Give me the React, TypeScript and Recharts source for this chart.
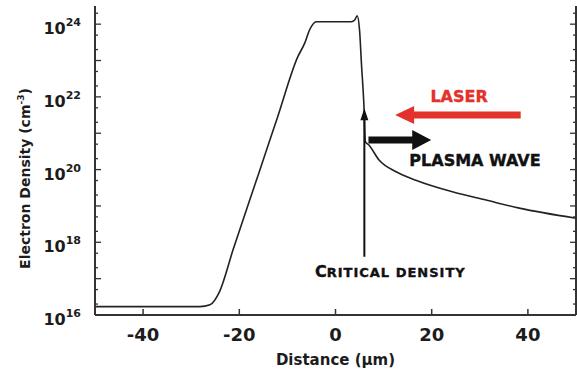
import React from 'react'
import {
  LineChart, Line, XAxis, YAxis, ReferenceLine, ReferenceDot,
} from 'recharts'

// distance (µm) and electron density (cm^-3)
const distance = [-50, -28.2, -26.1, -24.1, -21.3, -16, -12, -7.85, -6.4, -5.4, -4.0, 3.3, 4.0, 4.5, 5.0, 5.4, 5.9, 6.2, 6.9, 9.1, 12.6, 16.7, 24.3, 31.3, 38.2, 50]
const density = [1.7e16, 1.7e16, 1.91e16, 4.4e16, 6.2e17, 7.6e19, 2.9e21, 1.26e23, 3.0e23, 6.9e23, 1.17e24, 1.17e24, 1.3e24, 1.7e24, 6.9e23, 7.9e22, 6.3e21, 5.9e20, 4.8e20, 1.8e20, 8.7e19, 5.1e19, 2.45e19, 1.45e19, 8.7e18, 4.6e18]

const xTicks = [-40, -20, 0, 20, 40]
const yDecades = [16, 17, 18, 19, 20, 21, 22, 23, 24]
const yMinor = [2, 5]

const data = distance.map((d, i) => ({ x: d, n: density[i] }))

const yTicks: number[] = []
yDecades.forEach((e) => {
  yTicks.push(Math.pow(10, e))
  yMinor.forEach((m) => {
    const v = m * Math.pow(10, e)
    if (v < 3.16e24) yTicks.push(v)
  })
})

const FONT = '"DejaVu Sans", Verdana, sans-serif'
const INK = '#1c1c1c'
const AXIS = '#333'

const isDecade = (v: number) => {
  const l = Math.log10(v)
  return Math.abs(l - Math.round(l)) < 1e-6
}

const BottomTick = ({ x, y, payload }: any) => (
  <g>
    <line x1={x} x2={x} y1={y} y2={y - 6} stroke={AXIS} strokeWidth={1.5} />
    <text x={x} y={y + 26} textAnchor="middle" fontFamily={FONT} fontWeight="bold" fontSize={18} fill={INK}>
      {payload.value}
    </text>
  </g>
)

const TopTick = ({ x, y }: any) => (
  <line x1={x} x2={x} y1={y} y2={y + 6} stroke={AXIS} strokeWidth={1.5} />
)

const LeftTick = ({ x, y, payload }: any) => {
  const major = isDecade(payload.value)
  const exp = Math.round(Math.log10(payload.value))
  return (
    <g>
      <line x1={x} x2={x + (major ? 6 : 3)} y1={y} y2={y} stroke={AXIS} strokeWidth={1.3} />
      {major && exp % 2 === 0 && (
        <text x={x - 14} y={y + 10} textAnchor="end" fontFamily={FONT} fontWeight="bold" fontSize={16} fill={INK}>
          10<tspan dy={-8} fontSize={11}>{exp}</tspan>
        </text>
      )}
    </g>
  )
}

const RightTick = ({ x, y, payload }: any) => {
  const major = isDecade(payload.value)
  return <line x1={x} x2={x - (major ? 6 : 3)} y1={y} y2={y} stroke={AXIS} strokeWidth={1.3} />
}

const arrow = (color: string, shaft: number, headLen: number, headW: number) => (p: any) => {
  const { x1, y1, x2, y2 } = p
  const dx = x2 - x1
  const dy = y2 - y1
  const L = Math.hypot(dx, dy) || 1
  const ux = dx / L
  const uy = dy / L
  const nx = -uy
  const ny = ux
  const bx = x2 - ux * headLen
  const by = y2 - uy * headLen
  const pts = [
    [x1 + nx * shaft / 2, y1 + ny * shaft / 2],
    [bx + nx * shaft / 2, by + ny * shaft / 2],
    [bx + nx * headW / 2, by + ny * headW / 2],
    [x2, y2],
    [bx - nx * headW / 2, by - ny * headW / 2],
    [bx - nx * shaft / 2, by - ny * shaft / 2],
    [x1 - nx * shaft / 2, y1 - ny * shaft / 2],
  ]
  return <polygon points={pts.map((q) => q.join(',')).join(' ')} fill={color} />
}

const label = (content: React.ReactNode, color: string, size: number) => (p: any) => (
  <text x={p.cx} y={p.cy} textAnchor="middle" fontFamily={FONT} fontWeight="bold" fontSize={size}
    fill={color} stroke={color} strokeWidth={0.4}>
    {content}
  </text>
)

export default function App() {
  return (
    <div style={{ position: 'absolute', left: 0, top: 0, width: 577, height: 374, background: '#fff' }}>
      <LineChart width={577} height={374} data={data} margin={{ top: 6, right: 0, bottom: 0, left: 0 }}>
        <XAxis
          dataKey="x" type="number" domain={[-50, 50]} ticks={xTicks} interval={0}
          height={59} tickSize={0} tickMargin={0} tickLine={false}
          axisLine={{ stroke: AXIS, strokeWidth: 2 }} tick={<BottomTick />}
          label={{
            content: (p: any) => (
              <text x={p.viewBox.x + p.viewBox.width / 2} y={p.viewBox.y + 50} textAnchor="middle"
                fontFamily={FONT} fontWeight="bold" fontSize={15} fill={INK}>
                Distance (μm)
              </text>
            ),
          }}
        />
        <XAxis
          xAxisId="top" orientation="top" dataKey="x" type="number" domain={[-50, 50]} ticks={xTicks}
          interval={0} height={0} tickSize={0} tickMargin={0} tickLine={false}
          axisLine={{ stroke: AXIS, strokeWidth: 2.5 }} tick={<TopTick />}
        />
        <YAxis
          type="number" scale="log" domain={[1e16, 3.16e24]} allowDataOverflow ticks={yTicks}
          interval={0} width={95} tickSize={0} tickMargin={0} tickLine={false}
          axisLine={{ stroke: AXIS, strokeWidth: 2 }} tick={<LeftTick />}
          label={{
            content: (p: any) => {
              const cx = p.viewBox.x + 30
              const cy = p.viewBox.y + p.viewBox.height / 2 + 18
              return (
                <text x={cx} y={cy} transform={`rotate(-90 ${cx} ${cy})`} textAnchor="middle"
                  fontFamily={FONT} fontWeight="bold" fontSize={14} fill={INK}>
                  Electron Density (cm<tspan dy={-6} fontSize={9}>-3</tspan><tspan dy={6}>)</tspan>
                </text>
              )
            },
          }}
        />
        <YAxis
          yAxisId="right" orientation="right" type="number" scale="log" domain={[1e16, 3.16e24]}
          allowDataOverflow ticks={yTicks} interval={0} width={1} tickSize={0} tickMargin={0}
          tickLine={false} axisLine={{ stroke: AXIS, strokeWidth: 2 }} tick={<RightTick />}
        />
        <Line
          type="monotone" dataKey="n" stroke="#222" strokeWidth={1.6} dot={false}
          isAnimationActive={false}
        />
        {/* critical density marker */}
        <ReferenceLine segment={[{ x: 6.0, y: 4.0e17 }, { x: 6.0, y: 4.9e21 }]} shape={arrow('#111', 2, 12, 8)} />
        {/* laser */}
        <ReferenceLine segment={[{ x: 38.5, y: 3.16e21 }, { x: 12.4, y: 3.16e21 }]} shape={arrow('#e3322b', 7, 19, 18)} />
        {/* plasma wave */}
        <ReferenceLine segment={[{ x: 6.85, y: 6.5e20 }, { x: 19.9, y: 6.5e20 }]} shape={arrow('#111', 7, 19, 20)} />
        <ReferenceDot x={25.7} y={7.4e21} r={0} shape={label('LASER', '#e3322b', 16)} />
        <ReferenceDot x={29.0} y={1.26e20} r={0} shape={label('PLASMA WAVE', '#111', 16)} />
        <ReferenceDot
          x={11.4} y={1.1e17} r={0}
          shape={label(
            <>C<tspan fontSize={13} letterSpacing={1}>RITICAL DENSITY</tspan></>,
            '#111', 16,
          )}
        />
      </LineChart>
    </div>
  )
}
